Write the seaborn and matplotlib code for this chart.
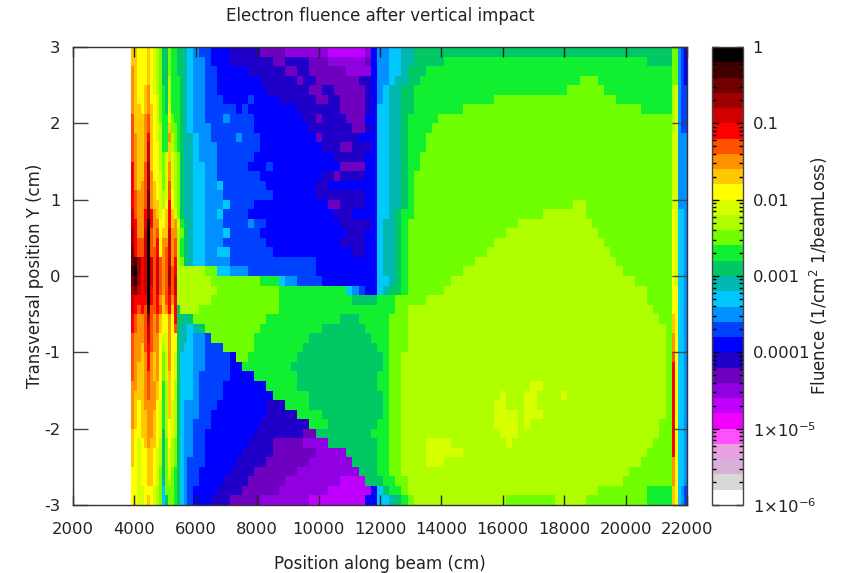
import numpy as np
import seaborn as sns
from matplotlib import pyplot as plt
from matplotlib.colors import ListedColormap, LogNorm
from matplotlib.ticker import FixedLocator

plt.rcParams['font.family'] = 'DejaVu Sans'

# one character = one colour band of the fluence scale, bottom to top
level_chars = '0123456789abcdefghijklmnopqrst'
band_colors = ['#ffffff', '#d8d8d8', '#d8b0d8', '#e8a0e0', '#ff50ff', '#f000ff', '#c000ff', '#9000e0',
               '#7000c0', '#2000c8', '#0000ff', '#0040ff', '#0090ff', '#00c8ff', '#00b8b0', '#00c864',
               '#10f030', '#70ff00', '#b0ff00', '#d8ff00', '#ffff00', '#ffc800', '#ff9000', '#ff5000',
               '#ff0000', '#d00000', '#a00000', '#700000', '#400000', '#000000']

x_ticks = [2000, 4000, 6000, 8000, 10000, 12000, 14000, 16000, 18000, 20000, 22000]
y_ticks = [3, 2, 1, 0, -1, -2, -3]
cbar_ticks = [1, 0.1, 0.01, 0.001, 0.0001, 1e-5, 1e-6]
cbar_labels = ['1', '0.1', '0.01', '0.001', '0.0001', '1×10$^{-5}$', '1×10$^{-6}$']

# 3900-5700 cm, 100 cm per cell, y from 3 down to -3
strip_rows = [
    'llkkklkjihffhggffe', 'llkkklkjihffhggffe', 'mlkkklkjihffhggffe', 'mlkkklkjihffigggfe',
    'mlkklmkjihgfigggfe', 'mlkklmkkjhgfigggfe', 'mllklmlkjhgfjgggfe', 'nlllmnlkjhggjhggfe',
    'nlllmnlkjigglhhgfe', 'nmllmolkjiggmihgfe', 'nmllmplkkigglihgfe', 'nmllmplkkihjljihfe',
    'omllnqlkkihjmjihfe', 'omllnqmkkjhjmjihfe', 'omlmnqmlkjhjnjihfe', 'onmmnrmlkjijnkihfe',
    'onmmnrmlljikokihfe', 'pnmmoromljkloljhfe', 'pommotommkklolmjgf', 'qommptnmnkllpmmihf',
    'qonnptnmokmmpmnigf', 'ronnptnnokmnpmnigf', 'rsqoptpnpnmnpmoihf', 'stqoptpnpnmnqnoiii',
    'rsqoptpnpnmnqnpiii', 'qrpoptonpnmnpnpiii', 'pooootonomlnomoiii', 'pononsnnonlmolofii',
    'onmmnqnmnlkkmkoffe', 'onmmnpnmnlkkmknfee', 'nmmmnpnmmkjjmkkfee', 'nmmlnonmmkijmkkfed',
    'nmmlmomlmkhjmkjfdd', 'nmllmomlmkhjmkjfdd', 'nmllmnmlmkhjlkjfdd', 'mmllmnmmlkgilkifdd',
    'mlllmnmmlkgilkifdd', 'mlklmmmmkjgiljifdc', 'mlkllmmlkjgiljifdc', 'mlkllmmlkjgikjifdc',
    'lkkllmmlkjfikjifdc', 'lkjklmllkifhkihfdc', 'lkjkkllkjifhjihfdc', 'lkjkkllkjifhjihfdc',
    'kkjkkllkjhfhjhgfdc', 'kkjkkllkjhehihgfdc', 'kkjjkkkjihdhhhgfdc', 'kkjjklkjihdfhhgfdc',
]

# 5700-21500 cm, 200 cm per cell, each token is band + column where the band ends
body_rows = [
    'd1 c2 b4 a7 912 816 723 629 730 a31 c33 d35 e37 f79',
    'd1 c3 b4 a7 914 816 920 823 729 830 a31 c33 d35 e37 f42 g75 f79',
    'd1 c3 b5 a10 916 818 920 826 730 a31 c33 d35 e36 f39 g79',
    'd1 c3 b5 a12 918 819 921 828 930 a31 c33 d34 e36 f38 g64 h67 g79',
    'd1 c3 b5 a13 920 822 924 829 930 a31 c32 d33 e35 f37 g62 h68 g79',
    'd1 c3 b6 a10 b11 a15 921 823 925 829 930 a31 c32 d33 e35 f37 g50 h70 g79',
    'd1 c3 b8 a9 b10 a18 925 829 930 a31 d33 e35 f37 g45 h74 g79',
    'd1 c3 b6 c7 b11 a19 921 822 926 829 a31 d33 e35 f36 g41 h79',
    'd1 c4 b11 a20 927 829 930 a31 d33 e35 f36 g40 h79',
    'e1 d2 c4 b8 c9 b12 a21 822 928 a31 d33 e35 f36 g39 h79',
    'e1 d2 c5 b12 a22 925 827 930 a31 d33 e35 f36 g39 h79',
    'e1 d2 c5 b11 a24 929 a31 d33 e35 f36 g38 h79',
    'e1 d3 c5 b10 a13 b14 a25 829 a31 d33 e35 f36 g38 h79',
    'e1 d3 c5 b12 a22 924 825 929 a31 d33 e35 f36 g37 h79',
    'e1 d3 c5 d6 b13 a21 923 a31 d33 e35 f36 g37 h79',
    'e1 d3 c6 b14 a21 929 a31 d33 e35 f36 g37 h79',
    'e1 d3 c6 d7 b11 a23 825 929 a31 d33 e35 f36 g37 h63 i65 h79',
    'e1 d3 c5 d6 b10 a24 927 a31 d33 e34 f35 g37 h58 i65 h79',
    'e1 d3 c6 b10 c11 b13 a25 930 a31 d32 e34 f35 g36 h54 i66 h79',
    'e1 d3 c6 d7 b12 a26 929 a31 d32 e34 f35 g36 h52 i67 h79',
    'e1 d3 c6 b13 a25 929 a31 d32 e34 f35 g36 h50 i68 h79',
    'e1 d3 c5 d7 b14 a27 929 a31 d32 e34 f35 g36 h49 i69 h79',
    'e1 d3 c7 b21 a31 d32 e34 f35 g36 h47 i70 h79',
    'i3 h5 d7 c10 b21 a31 d32 e34 f35 g36 h45 i71 h79',
    'i4 h12 g15 d16 c18 b22 a31 d33 e34 f35 g36 h43 i73 h79',
    'i5 h15 g26 d27 c28 b29 a31 d32 e33 f35 g36 h42 i75 h79',
    'i4 h15 g27 f31 g34 h39 i75 h79',
    'i2 h15 g34 h36 i76 h79',
    'f1 h13 g25 f28 g33 h36 i77 h79',
    'd1 e2 f3 h12 g22 f29 g33 h36 i78 h79',
    'd1 c3 b4 h11 g20 f30 g33 h36 i78 h79',
    'd1 c3 b6 h11 g19 f31 g33 h36 i78 h79',
    'd1 c3 b7 a8 h10 g18 f32 g33 h35 i78 h79',
    'd1 c3 b7 a9 g17 f32 g33 h35 i78 h79',
    'd1 c2 b7 a11 g18 f31 g33 h35 i78 h79',
    'd1 c2 b6 a13 g18 f31 g33 h35 i56 j58 i78 h79',
    'd1 c2 b6 a14 g20 f32 g33 h35 i51 j52 i55 j57 i61 j62 i78 h79',
    'c2 b5 a13 916 g20 f32 g33 h35 i50 j52 i55 j57 i78 h79',
    'c2 b4 a13 918 g22 f32 g33 h35 i50 j54 i55 j58 i78 h79',
    'c1 b4 a12 920 g23 f31 g33 h35 i50 j54 i55 j56 i77 h79',
    'c1 b3 a11 919 821 f30 g33 h35 i51 j54 i77 h79',
    'c1 b3 a10 914 819 723 f31 g33 h35 i39 j43 i52 j53 i76 h79',
    'c1 b3 a9 914 821 726 f31 g33 h35 i39 j45 i75 h79',
    'b3 a8 913 820 727 f31 g33 h35 i39 j42 i74 h79',
    'b2 a7 911 818 728 f31 g33 h35 i72 h79',
    'b2 a6 910 816 725 629 f32 g34 h36 i71 h79',
    'b1 a5 99 815 723 630 a31 d32 f33 g35 h36 i67 h75 g79',
    'b1 a4 97 812 720 629 a31 d33 e34 f35 g36 h37 i52 h60 i65 h75 g79',
]

# 21500-22000 cm, 100 cm per cell
tail_rows = [
    'hhcb9', 'hhcba', 'hhcba', 'hhcba', 'ijcbb', 'ijcbb', 'ijcbb', 'ijcbb',
    'ijcbb', 'jjccc', 'jjccc', 'jjccc', 'jjccc', 'jjccc', 'jjccc', 'jjccc',
    'jjccc', 'kjddc', 'kjddc', 'kjddc', 'kjddc', 'kjddc', 'kjddc', 'kjddc',
    'kjddc', 'kkddc', 'kkddc', 'kkddc', 'lkddc', 'lkddc', 'mkddc', 'mkddc',
    'nkddc', 'okddc', 'okddc', 'okddc', 'okddc', 'okddc', 'okddc', 'okddc',
    'okddc', 'okddc', 'okddc', 'mkddc', 'mkddc', 'mkddc', 'lkdcb', 'lkdcb',
]


def expand_runs(row):
    cells = ''
    for tok in row.split():
        cells += tok[0] * (int(tok[1:]) - len(cells))
    return ''.join(c * 2 for c in cells)


rows = []
for strip, body, tail in zip(strip_rows, body_rows, tail_rows):
    rows.append('0' * 19 + strip + expand_runs(body) + tail)

# band centre on the log scale
levels = np.array([[level_chars.index(c) for c in row] for row in rows])
fluence = 10.0 ** (-6 + (levels + 0.5) / 5)

fig = plt.figure(figsize=(8.46, 5.73), dpi=100)
ax = fig.add_axes([73 / 846, 1 - 505 / 573, 614 / 846, 458 / 573])
cax = fig.add_axes([712 / 846, 1 - 505 / 573, 31 / 846, 458 / 573])

sns.heatmap(fluence, ax=ax, cbar_ax=cax, cmap=ListedColormap(band_colors),
            norm=LogNorm(vmin=1e-6, vmax=1), xticklabels=False, yticklabels=False)

n_rows, n_cols = fluence.shape
ax.set_xticks([(x - 2000) / 20000 * n_cols for x in x_ticks], labels=[str(x) for x in x_ticks])
ax.set_yticks([(3 - y) / 6 * n_rows for y in y_ticks], labels=[str(y) for y in y_ticks])
ax.tick_params(axis='x', direction='in', length=7.5, width=1, top=True, pad=12,
               labelsize=11.8, labelbottom=True, color='#222222', labelcolor='#222222')
ax.tick_params(axis='y', direction='in', length=10.5, width=1, right=True, pad=9,
               labelsize=11.8, labelleft=True, color='#444444', labelcolor='#222222')
for spine in ax.spines.values():
    spine.set_visible(True)
    spine.set_color('#333333')
    spine.set_linewidth(1)

ax.set_title('Electron fluence after vertical impact', fontsize=12, color='#222222', pad=19)
ax.set_xlabel('Position along beam (cm)', fontsize=12, color='#222222', labelpad=13.5)
ax.set_ylabel('Transversal position Y (cm)', fontsize=12, color='#222222', labelpad=0.5)

cbar = ax.collections[0].colorbar
cbar.set_ticks(cbar_ticks, labels=cbar_labels)
cax.yaxis.set_minor_locator(FixedLocator([m * 10.0 ** e for e in range(-6, 0) for m in range(2, 10)]))
cax.tick_params(which='major', direction='in', length=5, width=1, left=True, right=True,
                labelsize=11.8, labelcolor='#222222', pad=7)
cax.tick_params(which='minor', direction='in', length=3, width=1, left=True, right=True)
cbar.outline.set_visible(True)
cbar.outline.set_edgecolor('#444444')
cbar.outline.set_linewidth(1)
cbar.set_label('Fluence (1/cm$^2$ 1/beamLoss)', fontsize=12, color='#222222', labelpad=-5.5)

fig.savefig('out.png', dpi=100)
